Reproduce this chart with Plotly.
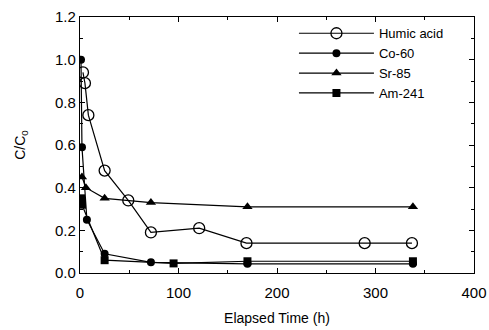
import plotly.graph_objects as go

humic_x = [3, 5, 8.5, 25, 49, 72, 121, 169, 289, 337]
humic_y = [0.94, 0.89, 0.74, 0.48, 0.34, 0.19, 0.21, 0.14, 0.14, 0.14]
co_x = [1, 2, 7, 25, 72, 170, 338]
co_y = [1.0, 0.59, 0.25, 0.09, 0.05, 0.043, 0.043]
sr_x = [2, 6, 25, 72, 170, 338]
sr_y = [0.45, 0.40, 0.35, 0.33, 0.31, 0.31]
am_x = [1, 2, 25, 95, 170, 338]
am_y = [0.35, 0.32, 0.06, 0.045, 0.055, 0.055]

names = ["Humic acid", "Co-60", "Sr-85", "Am-241"]
x_ticks = [0, 100, 200, 300, 400]
y_ticks = [0, 0.2, 0.4, 0.6, 0.8, 1.0, 1.2]

FONT = "Liberation Sans, Arial, Helvetica, sans-serif"

fig = go.Figure()
line = dict(color="black", width=1.2)
fig.add_trace(go.Scatter(x=humic_x, y=humic_y, name=names[0], mode="lines+markers", line=line,
                         marker=dict(symbol="circle-open", size=11, color="black", line=dict(width=1.3))))
fig.add_trace(go.Scatter(x=co_x, y=co_y, name=names[1], mode="lines+markers", line=line,
                         marker=dict(symbol="circle", size=8, color="black")))
fig.add_trace(go.Scatter(x=sr_x, y=sr_y, name=names[2], mode="lines+markers", line=line,
                         marker=dict(symbol="triangle-up", size=9, color="black")))
fig.add_trace(go.Scatter(x=am_x, y=am_y, name=names[3], mode="lines+markers", line=line,
                         marker=dict(symbol="square", size=8, color="black")))

axis_common = dict(showline=True, linecolor="black", linewidth=1.2, mirror="ticks",
                   ticks="inside", ticklen=5, tickcolor="black", tickwidth=1,
                   showgrid=False, zeroline=False, automargin=False,
                   tickfont=dict(family=FONT, size=15, color="black"))

fig.update_layout(
    width=489, height=330,
    margin=dict(l=80, r=15, t=17, b=57),
    paper_bgcolor="white", plot_bgcolor="white",
    font=dict(family=FONT, size=14, color="black"),
    xaxis=dict(range=[0, 400], tickvals=x_ticks, ticklabelstandoff=6,
               minor=dict(ticks="inside", ticklen=3, tickcolor="black", dtick=50, tick0=0),
               title=dict(text="Elapsed Time (h)", standoff=13, font=dict(size=14)),
               **axis_common),
    yaxis=dict(range=[0, 1.2], tickvals=y_ticks, tickformat=".1f",
               minor=dict(ticks="inside", ticklen=3, tickcolor="black", dtick=0.1, tick0=0),
               title=dict(text="C/C<sub>0</sub>", standoff=26, font=dict(size=14)),
               **axis_common),
    legend=dict(x=0.543, y=0.995, xanchor="left", yanchor="top", bgcolor="rgba(0,0,0,0)",
                font=dict(size=13), itemwidth=75, tracegroupgap=0),
    showlegend=True,
)

fig.write_html("out.html")
